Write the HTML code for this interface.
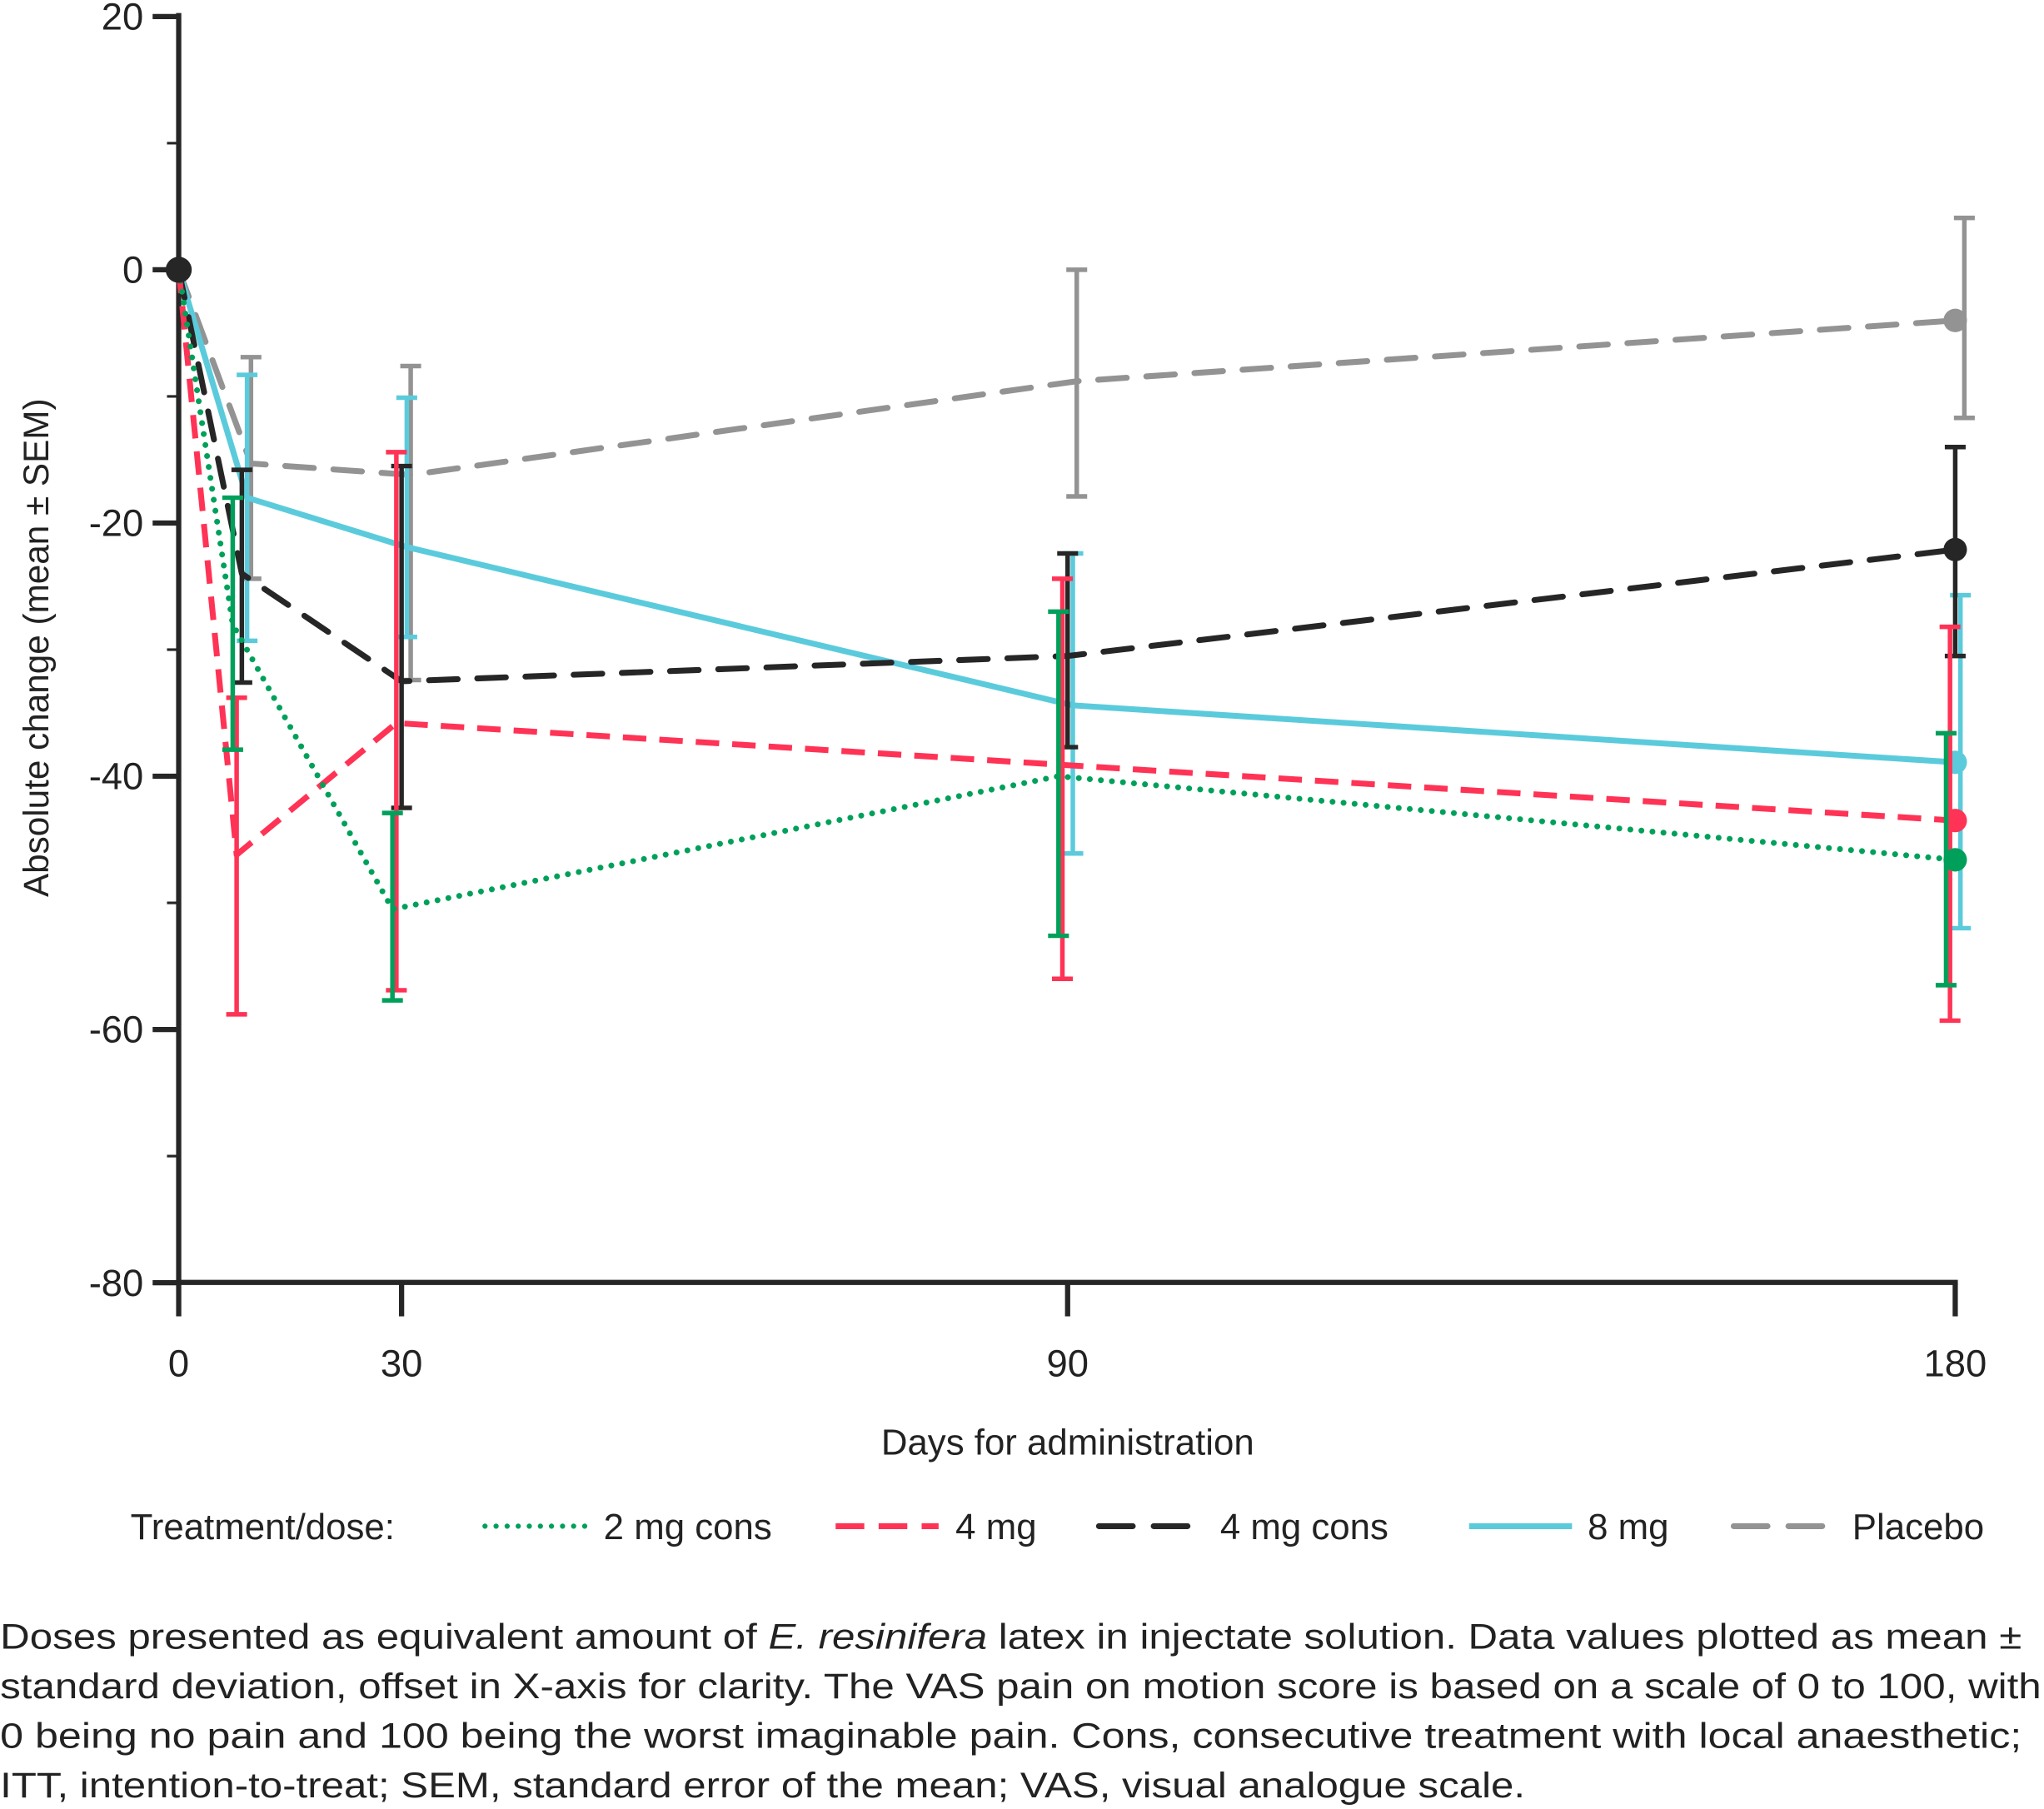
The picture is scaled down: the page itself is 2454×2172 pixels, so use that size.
<!DOCTYPE html>
<html><head><meta charset="utf-8">
<style>
html,body{margin:0;padding:0;background:#fff;}
svg{display:block;}
text{font-family:"Liberation Sans",sans-serif;fill:#222;}
</style></head>
<body>
<svg id="chart" width="2454" height="2172" viewBox="0 0 1568 1388" xmlns="http://www.w3.org/2000/svg">
<g id="axes"></g>
<g id="series"></g>
<text transform="translate(37,497) rotate(-90)" text-anchor="middle" font-size="27">Absolute change (mean ± SEM)</text>
<text x="819" y="1116" text-anchor="middle" font-size="28">Days for administration</text>
<g font-size="28">
  <text x="100" y="1181">Treatment/dose:</text>
  <g><line x1="372" y1="1171" x2="450" y2="1171" stroke="#00a05a" stroke-width="4" stroke-dasharray="0 8.5" stroke-linecap="round"/><text x="463" y="1181">2 mg cons</text></g>
  <g><line x1="641" y1="1171" x2="720" y2="1171" stroke="#ff3355" stroke-width="4.5" stroke-dasharray="22 11"/><text x="733" y="1181">4 mg</text></g>
  <g><line x1="843" y1="1171" x2="922" y2="1171" stroke="#262626" stroke-width="4.5" stroke-dasharray="26 16" stroke-linecap="round"/><text x="936" y="1181">4 mg cons</text></g>
  <g><line x1="1127" y1="1171" x2="1206" y2="1171" stroke="#5bcbdc" stroke-width="4.5"/><text x="1218" y="1181">8 mg</text></g>
  <g><line x1="1330" y1="1171" x2="1409" y2="1171" stroke="#939393" stroke-width="4.5" stroke-dasharray="26 16" stroke-linecap="round"/><text x="1421" y="1181">Placebo</text></g>
</g>
<g font-size="27">
  <text x="0" y="1265" textLength="1551" lengthAdjust="spacingAndGlyphs">Doses presented as equivalent amount of <tspan font-style="italic">E. resinifera</tspan> latex in injectate solution. Data values plotted as mean ±</text>
  <text x="0" y="1303" textLength="1566" lengthAdjust="spacingAndGlyphs">standard deviation, offset in X-axis for clarity. The VAS pain on motion score is based on a scale of 0 to 100, with</text>
  <text x="0" y="1341" textLength="1551" lengthAdjust="spacingAndGlyphs">0 being no pain and 100 being the worst imaginable pain. Cons, consecutive treatment with local anaesthetic;</text>
  <text x="0" y="1379" textLength="1170" lengthAdjust="spacingAndGlyphs">ITT, intention-to-treat; SEM, standard error of the mean; VAS, visual analogue scale.</text>
</g>
</svg>
<script>
const days = [0, 8.5, 30, 90, 180];
const xTicks = [0, 30, 90, 180];
const yTicks = [20, 0, -20, -40, -60, -80];
const yMinor = [10, -10, -30, -50, -70];
const mean2mgCons = [0, -28, -50.5, -40, -46.6];
const lo2mgCons = [0, -37.9, -57.7, -52.6, -56.5];
const hi2mgCons = [0, -18, -42.9, -27, -36.6];
const mean4mg = [0, -46.2, -35.8, -39.1, -43.5];
const lo4mg = [0, -58.8, -56.9, -56, -59.3];
const hi4mg = [0, -33.8, -14.4, -24.4, -28.2];
const mean4mgCons = [0, -24, -32.5, -30.5, -22.1];
const lo4mgCons = [0, -32.6, -42.5, -37.7, -30.5];
const hi4mgCons = [0, -15.8, -15.5, -22.4, -14];
const mean8mg = [0, -18, -21.9, -34.4, -38.9];
const lo8mg = [0, -29.3, -29, -46.1, -52];
const hi8mg = [0, -8.3, -10.1, -22.4, -25.7];
const meanPlacebo = [0, -15.3, -16.2, -8.8, -4];
const loPlacebo = [0, -24.4, -32.4, -17.9, -11.7];
const hiPlacebo = [0, -6.9, -7.6, 0, 4.1];

const NS = "http://www.w3.org/2000/svg";
const xKnotsD = [0, 30, 90, 180], xKnotsP = [137, 308, 819, 1500];
function xs(d){
  for(let i=0;i<xKnotsD.length-1;i++){
    if(d<=xKnotsD[i+1]){const t=(d-xKnotsD[i])/(xKnotsD[i+1]-xKnotsD[i]);return xKnotsP[i]+t*(xKnotsP[i+1]-xKnotsP[i]);}
  }
  return xKnotsP[xKnotsP.length-1];
}
function ys(v){ return 207 - (v/20)*194.3; }
function mk(tag, attrs, parent){const e=document.createElementNS(NS,tag);for(const k in attrs)e.setAttribute(k,attrs[k]);parent.appendChild(e);return e;}

const axes=document.getElementById('axes');
let e;
e=mk('line',{x1:137,y1:10,x2:137,y2:986,stroke:'#262626','stroke-width':4},axes);


e=mk('line',{x1:135,y1:984,x2:1502,y2:984,stroke:'#262626','stroke-width':4},axes);


yTicks.forEach(v=>{
  const t=mk('line',{x1:117,y1:ys(v),x2:137,y2:ys(v),stroke:'#262626','stroke-width':4},axes);
  
  
  const l=mk('text',{x:110,y:ys(v)+10,'text-anchor':'end','font-size':29},axes);
  l.textContent=String(v);
  
  
});
yMinor.forEach(v=>{
  const t=mk('line',{x1:128,y1:ys(v),x2:137,y2:ys(v),stroke:'#262626','stroke-width':2},axes);
  
  
});
xTicks.forEach(d=>{
  const t=mk('line',{x1:xs(d),y1:984,x2:xs(d),y2:1010,stroke:'#262626','stroke-width':4},axes);
  
  
  const l=mk('text',{x:xs(d),y:1056,'text-anchor':'middle','font-size':29},axes);
  l.textContent=String(d);
  
  
});

const seriesDefs=[
  {name:'2mg-cons',mean:mean2mgCons,lo:lo2mgCons,hi:hi2mgCons,color:'#00a05a',dash:'0 8.5',cap:'round',off:-7},
  {name:'4mg',mean:mean4mg,lo:lo4mg,hi:hi4mg,color:'#ff3355',dash:'18 10',cap:'butt',off:-4},
  {name:'4mg-cons',mean:mean4mgCons,lo:lo4mgCons,hi:hi4mgCons,color:'#262626',dash:'22 15',cap:'round',off:0},
  {name:'8mg',mean:mean8mg,lo:lo8mg,hi:hi8mg,color:'#5bcbdc',dash:'',cap:'butt',off:4},
  {name:'placebo',mean:meanPlacebo,lo:loPlacebo,hi:hiPlacebo,color:'#939393',dash:'22 15',cap:'round',off:7}
];
const sg=document.getElementById('series');
seriesDefs.slice().reverse().forEach(s=>{
  const g=mk('g',{},sg);
  
  
  const last=days.length-1;
  days.forEach((d,i)=>{
    if(i===0) return;
    const x=xs(d)+s.off;
    const b=mk('path',{d:`M${x-8},${ys(s.hi[i])}H${x+8}M${x},${ys(s.hi[i])}V${ys(s.lo[i])}M${x-8},${ys(s.lo[i])}H${x+8}`,stroke:s.color,'stroke-width':3.5,fill:'none'},g);
    
    
  });
  const pts=days.map((d,i)=>{
    const x=(i===0||i===last)?xs(d):xs(d)+s.off;
    return `${x},${ys(s.mean[i])}`;
  });
  const attrs={points:pts.join(' '),fill:'none',stroke:s.color,'stroke-width':4.5,'stroke-linecap':s.cap,'stroke-linejoin':'round'};
  if(s.dash) attrs['stroke-dasharray']=s.dash;
  const line=mk('polyline',attrs,g);
  
  
  const dot=mk('circle',{cx:xs(days[last]),cy:ys(s.mean[last]),r:9,fill:s.color},g);
  
  
});
const d0=mk('circle',{cx:xs(0),cy:ys(mean4mgCons[0]),r:10,fill:'#262626'},sg);


</script>
</body></html>
